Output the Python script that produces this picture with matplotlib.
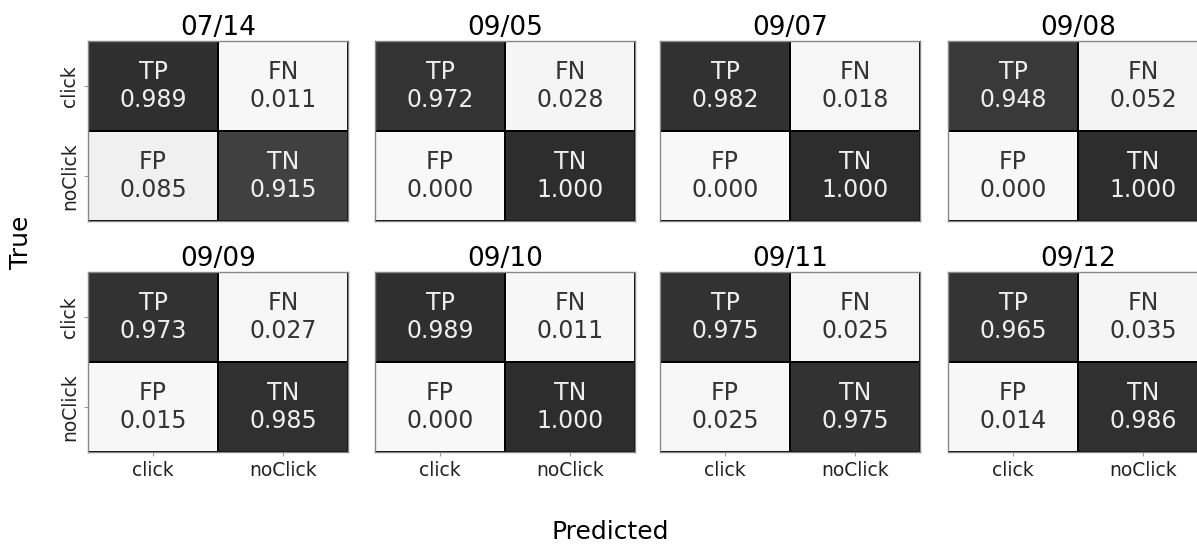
import numpy as np
import matplotlib.pyplot as plt
from matplotlib.colors import LinearSegmentedColormap

# =====================================================
# Data
# =====================================================

dates = ["07/14", "09/05", "09/07", "09/08",
         "09/09", "09/10", "09/11", "09/12"]

tp = [0.989, 0.972, 0.982, 0.948, 0.973, 0.989, 0.975, 0.965]
fn = [0.011, 0.028, 0.018, 0.052, 0.027, 0.011, 0.025, 0.035]
fp = [0.085, 0.000, 0.000, 0.000, 0.015, 0.000, 0.025, 0.014]
tn = [0.915, 1.000, 1.000, 1.000, 0.985, 1.000, 0.975, 0.986]

cell_names = [["TP", "FN"], ["FP", "TN"]]
classes = ["click", "noClick"]

# =====================================================
# Figure
# =====================================================

W, H = 1197, 544
fig = plt.figure(figsize=(W / 100, H / 100), dpi=100)

cmap = LinearSegmentedColormap.from_list(
    "g",
    [(0.0, "#f8f8f8"), (0.1, "#eeeeee"), (0.9, "#444444"), (1.0, "#2d2d2d")]
)

col_left = [88, 375, 660, 948]
ax_w = 260
row_top = [41, 272]
ax_h = 180

for k, date in enumerate(dates):
    r, c = divmod(k, 4)
    ax = fig.add_axes([
        col_left[c] / W,
        (H - row_top[r] - ax_h) / H,
        ax_w / W,
        ax_h / H
    ])

    m = np.array([[tp[k], fn[k]], [fp[k], tn[k]]])

    ax.pcolormesh(m, cmap=cmap, vmin=0, vmax=1,
                  edgecolors="black", linewidth=1.2)
    ax.set_xlim(0, 2)
    ax.set_ylim(2, 0)

    for i in range(2):
        for j in range(2):
            v = m[i, j]
            color = "#eeeeee" if v > 0.5 else "#333333"
            ax.text(j + 0.5, i + 0.5, f"{cell_names[i][j]}\n{v:.3f}",
                    ha="center", va="center", fontsize=17,
                    color=color, linespacing=1.2)

    ax.set_title(date, fontsize=19, pad=4)

    for s in ax.spines.values():
        s.set_edgecolor("#888888")
        s.set_linewidth(1)

    ax.set_xticks([0.5, 1.5])
    ax.set_yticks([0.5, 1.5])
    ax.tick_params(colors="#999999", labelcolor="#222222",
                   labelsize=13.5, length=3)

    if r == 1:
        ax.set_xticklabels(classes)
    else:
        ax.set_xticklabels([])
        ax.tick_params(axis="x", length=0)

    if c == 0:
        ax.set_yticklabels(classes, rotation=90, va="center")
    else:
        ax.set_yticklabels([])
        ax.tick_params(axis="y", length=0)

fig.text(21 / W, 1 - 242 / H, "True", rotation=90,
         ha="center", va="center", fontsize=18)
fig.text(610 / W, 1 - 532 / H, "Predicted",
         ha="center", va="center", fontsize=18)

fig.savefig("out.png", dpi=100)
